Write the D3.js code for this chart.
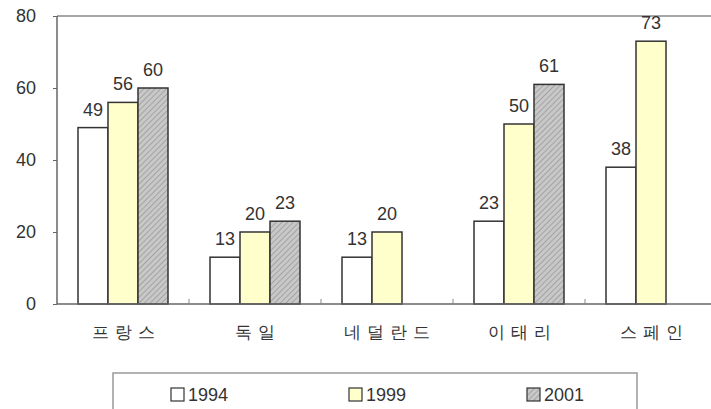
<!DOCTYPE html>
<html>
<head>
<meta charset="utf-8">
<script src="https://cdn.jsdelivr.net/npm/d3@7"></script>
<style>
  body { margin: 0; background: #fff; }
  svg text { font-family: "Liberation Sans", Arial, sans-serif; fill: #333; }
</style>
</head>
<body>
<div id="chart"></div>
<script>
const categories = ["프랑스", "독일", "네덜란드", "이태리", "스페인"];
const seriesNames = ["1994", "1999", "2001"];
const values1994 = [49, 13, 13, 23, 38];
const values1999 = [56, 20, 20, 50, 73];
const values2001 = [60, 23, null, 61, null];
const yTicks = [0, 20, 40, 60, 80];

const width = 711, height = 409;
const svg = d3.select("#chart").append("svg").attr("width", width).attr("height", height);

const defs = svg.append("defs");
const pat = defs.append("pattern").attr("id", "hatch").attr("patternUnits", "userSpaceOnUse")
  .attr("width", 4).attr("height", 4).attr("patternTransform", "rotate(45)");
pat.append("rect").attr("width", 4).attr("height", 4).attr("fill", "#c8c8c8");
pat.append("line").attr("x1", 0).attr("y1", 0).attr("x2", 0).attr("y2", 4).attr("stroke", "#8a8a8a").attr("stroke-width", 1.2);

const fills = ["#ffffff", "#ffffcc", "url(#hatch)"];
const series = [values1994, values1999, values2001];

const plotLeft = 57, plotTop = 16, plotBottom = 304;
const x = d3.scaleBand().domain(categories).range([plotLeft, plotLeft + 132 * 5]).paddingInner(0).paddingOuter(0);
const xs = d3.scaleBand().domain(seriesNames).range([0, 90]);
const y = d3.scaleLinear().domain([0, 80]).range([plotBottom, plotTop]);

// frame
svg.append("line").attr("x1", plotLeft).attr("x2", width).attr("y1", plotTop).attr("y2", plotTop).attr("stroke", "#888").attr("stroke-width", 1.5);
svg.append("line").attr("x1", plotLeft).attr("x2", plotLeft).attr("y1", plotTop).attr("y2", plotBottom).attr("stroke", "#666").attr("stroke-width", 1.5);

// y axis
const yAxis = svg.append("g").attr("transform", `translate(${plotLeft},0)`)
  .call(d3.axisLeft(y).tickValues(yTicks).tickSize(4).tickPadding(17));
yAxis.select(".domain").remove();
yAxis.selectAll("line").attr("stroke", "#666");
yAxis.selectAll("text").attr("font-size", 18).attr("fill", "#333");

// bars
series.forEach((vals, si) => {
  categories.forEach((c, ci) => {
    const v = vals[ci];
    if (v == null) return;
    const bx = x(c) + (x.bandwidth() - 90) / 2 + xs(seriesNames[si]);
    svg.append("rect").attr("x", bx).attr("y", y(v)).attr("width", xs.bandwidth()).attr("height", y(0) - y(v))
      .attr("fill", fills[si]).attr("stroke", "#333").attr("stroke-width", 1.5);
    svg.append("text").attr("x", bx + xs.bandwidth() / 2).attr("y", y(v) - 12).attr("text-anchor", "middle")
      .attr("font-size", 18).text(v);
  });
});

// x axis
const xAxis = svg.append("g").attr("transform", `translate(0,${plotBottom})`)
  .call(d3.axisBottom(x).tickSize(0).tickPadding(22));
xAxis.select(".domain").attr("stroke", "#666").attr("stroke-width", 1.5).attr("d", `M${plotLeft},0H${width}`);
xAxis.selectAll("text").attr("font-size", 17).attr("font-family", "'Noto Sans CJK KR', sans-serif")
  .attr("letter-spacing", "6px").attr("dx", 3).attr("fill", "#444");
categories.slice(1).forEach(c => {
  svg.append("line").attr("x1", x(c)).attr("x2", x(c)).attr("y1", plotBottom - 5).attr("y2", plotBottom).attr("stroke", "#888");
});

// legend
svg.append("rect").attr("x", 113).attr("y", 373).attr("width", 524).attr("height", 50)
  .attr("fill", "#fff").attr("stroke", "#999").attr("stroke-width", 1.5);
const legendX = [171, 349, 527];
seriesNames.forEach((s, i) => {
  svg.append("rect").attr("x", legendX[i]).attr("y", 388).attr("width", 13).attr("height", 13)
    .attr("fill", fills[i]).attr("stroke", "#333").attr("stroke-width", 1.2);
  svg.append("text").attr("x", legendX[i] + 17).attr("y", 401).attr("font-size", 18).text(s);
});
</script>
</body>
</html>
